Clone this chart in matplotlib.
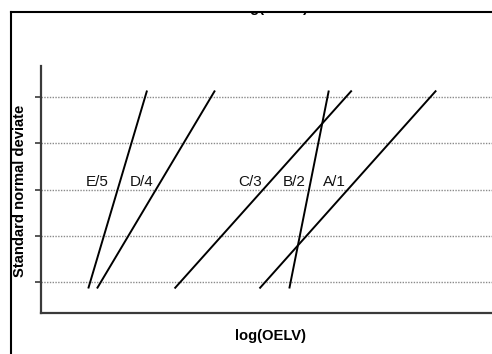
import matplotlib
matplotlib.use("Agg")
import matplotlib.pyplot as plt
from matplotlib.lines import Line2D
from matplotlib.transforms import Bbox

plt.rcParams['font.family'] = ['Liberation Sans', 'DejaVu Sans']

# Data (arbitrary log(OELV) units; standard normal deviate on y)
labels = ["E/5", "D/4", "C/3", "B/2", "A/1"]
x_low = [1.03, 1.22, 2.91, 5.41, 4.76]    # x at lower end of each line
x_high = [2.31, 3.79, 6.77, 6.27, 8.61]   # x at upper end of each line
y_low = -2.14
y_high = 2.14
label_x = [1.22, 2.20, 4.55, 5.52, 6.40]
label_y = 0.16
grid_levels = [-2, -1, 0, 1, 2]

W, H = 492, 354
fig = plt.figure(figsize=(W / 100, H / 100), dpi=100)

ax_left, ax_right = 41, 500
ax_top, ax_bottom = 66, 313
ax = fig.add_axes([ax_left / W, 1 - ax_bottom / H,
                   (ax_right - ax_left) / W, (ax_bottom - ax_top) / H])
ax.set_xlim(0, 10)
ax.set_ylim(-2.67, 2.67)

for g in grid_levels:
    ax.axhline(g, color='#8a8a8a', linestyle=(0, (1, 1)), linewidth=1.0, zorder=1)

for xl, xh in zip(x_low, x_high):
    ax.plot([xl, xh], [y_low, y_high], color='black', linewidth=1.4,
            solid_capstyle='butt', zorder=3)

for lab, lx in zip(labels, label_x):
    ax.text(lx, label_y, lab, ha='center', va='center', fontsize=11, color='#111111',
            zorder=4)

ax.spines['top'].set_visible(False)
ax.spines['right'].set_visible(False)
for s in ('left', 'bottom'):
    ax.spines[s].set_color('#3a3a3a')
    ax.spines[s].set_linewidth(1.6)
ax.set_yticks(grid_levels)
ax.set_yticklabels([])
ax.set_xticks([])
ax.tick_params(axis='y', direction='out', length=4.5, width=1.2, color='#3a3a3a')

fig.text(20 / W, 1 - 191 / H, "Standard normal deviate", rotation=90,
         ha='center', va='center', fontsize=10.6, fontweight='bold')
fig.text(270 / W, 1 - 336 / H, "log(OELV)", ha='center', va='center',
         fontsize=10.6, fontweight='bold')
# clipped title remnant at the top edge (only the part below the frame shows)
top_txt = fig.text(272 / W, 1 - 12.0 / H, "log(OELV)", ha='center', va='baseline',
                   fontsize=10.6, fontweight='bold')
top_txt.set_clip_box(Bbox.from_extents(0, 0, W, H - 12))
top_txt.set_clip_on(True)

# outer frame (left and top edges visible)
fig.add_artist(Line2D([10.5 / W, 10.5 / W], [0, 1 - 11.5 / H], transform=fig.transFigure,
                      color='black', linewidth=1.5))
fig.add_artist(Line2D([10.5 / W, 1], [1 - 11.5 / H, 1 - 11.5 / H], transform=fig.transFigure,
                      color='black', linewidth=1.5))

fig.savefig("out.png", dpi=100)
